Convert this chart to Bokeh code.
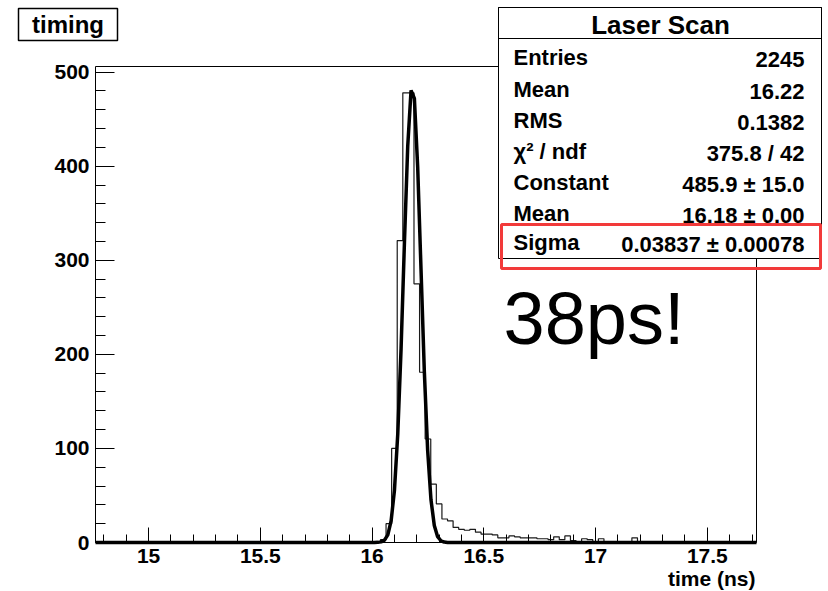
import numpy as np
from bokeh.plotting import figure
from bokeh.models import Range1d, FixedTicker, Label, BoxAnnotation, LinearAxis
from bokeh.embed import file_html
from bokeh.resources import INLINE

# ---------------- data ----------------
hist_low = 14.7625          # first bin edge
bin_width = 0.025           # ns
n_bins = 118
first_filled_bin_low = 16.0375
filled_counts = [3, 20, 100, 321, 478, 478, 275, 181, 110, 62,
                 41, 25, 23, 16, 14, 13, 14, 11, 9, 9,
                 8, 5, 5, 7, 6, 5, 5, 5, 4, 4,
                 3, 6, 3, 7, 2, 1, 4, 3, 1, 4,
                 0, 0, 0, 0, 0, 5]

fit_constant = 485.9
fit_mean = 16.18
fit_sigma = 0.03837
fit_npx = 200

x_ticks = [15, 15.5, 16, 16.5, 17, 17.5]
x_tick_labels = ["15", "15.5", "16", "16.5", "17", "17.5"]
y_ticks = [0, 100, 200, 300, 400, 500]
y_tick_labels = ["0", "100", "200", "300", "400", "500"]

hist_name = "timing"
stats_title = "Laser Scan"
stats_names = ["Entries", "Mean", "RMS", "\u03c7\u00b2 / ndf", "Constant", "Mean", "Sigma"]
stats_values = ["2245", "16.22", "0.1382", "375.8 / 42", "485.9 \u00b1 15.0",
                "16.18 \u00b1 0.00", "0.03837 \u00b1 0.00078"]
x_title = "time (ns)"
note = "38ps!"

# ---------------- geometry ----------------
W, H = 828, 591
FL, FR, FT, FB = 95, 756, 66, 542          # pixel box of the histogram pad frame
x0, x1 = 14.7625, 17.72                    # axis range
y0, y1 = 0.0, 506.0
sx = (FR - FL) / (x1 - x0)
sy = (FB - FT) / (y1 - y0)

def X(px):
    return x0 + (px - FL) / sx

def Y(py):
    return y0 + (FB - py) / sy

FONT = "Liberation Sans"

p = figure(width=W, height=H, output_backend="svg", toolbar_location=None,
           x_range=Range1d(X(0), X(W)), y_range=Range1d(Y(H), Y(0)),
           x_axis_type=None, y_axis_type=None,
           min_border=0, min_border_left=0, min_border_right=0,
           min_border_top=0, min_border_bottom=0)
p.background_fill_color = "white"
p.border_fill_color = "white"
p.outline_line_color = None
p.xgrid.visible = False
p.ygrid.visible = False

# pad frame
p.add_layout(BoxAnnotation(left=x0, right=x1, bottom=y0, top=y1,
                           fill_alpha=0.0, line_color="black", line_alpha=1.0,
                           line_width=1, level="underlay"))

x_minor = [round(v, 2) for v in np.arange(14.8, 17.71, 0.1)]
y_minor = list(range(0, 501, 20))

xaxis = LinearAxis(fixed_location=y0, bounds=(x0, x1),
                   ticker=FixedTicker(ticks=x_ticks, minor_ticks=x_minor))
yaxis = LinearAxis(fixed_location=x0, bounds=(y0, y1),
                   ticker=FixedTicker(ticks=y_ticks, minor_ticks=y_minor))
for ax in (xaxis, yaxis):
    ax.axis_line_color = None
    ax.major_tick_out = 0
    ax.minor_tick_out = 0
    ax.major_tick_line_color = "black"
    ax.minor_tick_line_color = "black"
    ax.major_label_text_font = FONT
    ax.major_label_text_font_style = "bold"
    ax.major_label_text_font_size = "21px"
    ax.major_label_text_color = "black"
    ax.major_label_standoff = 6
xaxis.major_tick_in = 15
xaxis.minor_tick_in = 8
xaxis.major_label_overrides = {t: s for t, s in zip(x_ticks, x_tick_labels)}
yaxis.major_tick_in = 19
yaxis.minor_tick_in = 10
yaxis.major_label_overrides = {t: s for t, s in zip(y_ticks, y_tick_labels)}
p.add_layout(xaxis, "below")
p.add_layout(yaxis, "left")

# histogram (step outline)
edges = hist_low + bin_width * np.arange(n_bins + 1)
counts = np.zeros(n_bins)
i0 = int(round((first_filled_bin_low - hist_low) / bin_width))
counts[i0:i0 + len(filled_counts)] = filled_counts
ys = np.append(counts, 0.0)
p.step(edges, ys, mode="after", line_color="#1a1a1a", line_width=1.2)

# gaussian fit (from fitted parameters)
fx = np.linspace(x0, x1, fit_npx)
fy = fit_constant * np.exp(-0.5 * ((fx - fit_mean) / fit_sigma) ** 2)
p.line(fx, fy, line_color="black", line_width=3.5)

# title box
p.add_layout(BoxAnnotation(left=X(18), right=X(117), top=Y(8), bottom=Y(40),
                           fill_color="white", fill_alpha=1.0,
                           line_color="black", line_alpha=1.0, line_width=1.5))
p.add_layout(Label(x=X(67.5), y=Y(24), text=hist_name, text_align="center",
                   text_baseline="middle", text_font=FONT, text_font_style="bold",
                   text_font_size="24px", text_color="black"))

# stats box
p.add_layout(BoxAnnotation(left=X(498), right=X(821), top=Y(7), bottom=Y(258),
                           fill_color="white", fill_alpha=1.0,
                           line_color="black", line_alpha=1.0, line_width=1))
p.add_layout(BoxAnnotation(left=X(498), right=X(821), top=Y(7), bottom=Y(38),
                           fill_alpha=0.0, line_color="black", line_alpha=1.0,
                           line_width=1))
p.add_layout(Label(x=X(660), y=Y(24), text=stats_title, text_align="center",
                   text_baseline="middle", text_font=FONT, text_font_style="bold",
                   text_font_size="26px", text_color="black"))
row_y = [57, 89, 120, 151, 182, 213, 242]
for name, val, ry in zip(stats_names, stats_values, row_y):
    p.add_layout(Label(x=X(513), y=Y(ry), text=name, text_align="left",
                       text_baseline="middle", text_font=FONT, text_font_style="bold",
                       text_font_size="22px", text_color="black"))
    p.add_layout(Label(x=X(804), y=Y(ry + 2), text=val, text_align="right",
                       text_baseline="middle", text_font=FONT, text_font_style="bold",
                       text_font_size="22px", text_color="black"))

# red highlight
p.add_layout(BoxAnnotation(left=X(501), right=X(820), top=Y(224), bottom=Y(268),
                           fill_alpha=0.0, line_color="#f23a3a", line_alpha=1.0,
                           line_width=3))

# big note
p.add_layout(Label(x=X(503), y=Y(318), text=note, text_align="left",
                   text_baseline="middle", text_font=FONT,
                   text_font_size="74px", text_color="black"))

# x title
p.add_layout(Label(x=X(755), y=Y(578), text=x_title, text_align="right",
                   text_baseline="middle", text_font=FONT, text_font_style="bold",
                   text_font_size="21px", text_color="black"))

open("out.html", "w").write(file_html(p, INLINE))
